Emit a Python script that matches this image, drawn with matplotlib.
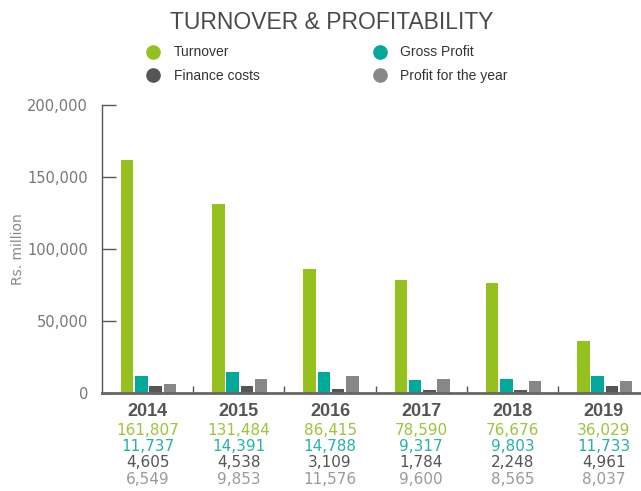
import matplotlib.pyplot as plt
import numpy as np
from matplotlib.lines import Line2D

# data (Rs. million)
years = ["2014", "2015", "2016", "2017", "2018", "2019"]
turnover = [161807, 131484, 86415, 78590, 76676, 36029]
gross_profit = [11737, 14391, 14788, 9317, 9803, 11733]
finance_costs = [4605, 4538, 3109, 1784, 2248, 4961]
profit_year = [6549, 9853, 11576, 9600, 8565, 8037]

series_names = ["Turnover", "Gross Profit", "Finance costs", "Profit for the year"]
bar_colors = ["#95c11f", "#00a99a", "#555555", "#878787"]
text_colors = ["#9dc43a", "#26b3a5", "#555555", "#9a9a9a"]

plt.rcParams['font.family'] = ['Liberation Sans', 'DejaVu Sans']

fig = plt.figure(figsize=(6.41, 4.91), dpi=100)
ax = fig.add_axes([0.1591, 0.1996, 0.854, 0.5866])

x = np.arange(len(years))
width = 0.137
pitch = 0.156
all_series = [turnover, gross_profit, finance_costs, profit_year]
for i, vals in enumerate(all_series):
    ax.bar(x + (i - 1.5) * pitch + 0.01, vals, width, color=bar_colors[i], label=series_names[i])

ax.set_xlim(-0.5, 5.5)
ax.set_ylim(0, 200000)

# y axis
ax.set_yticks(range(0, 200001, 50000))
ax.set_yticklabels([f"{v:,}" for v in range(0, 200001, 50000)], family='DejaVu Sans',
                   fontsize=10.5, color="#777777")
ax.tick_params(axis='y', direction='in', length=10, width=1, color="#555555", pad=10)
ax.set_ylabel("Rs. million", fontsize=10, color="#888888", family='DejaVu Sans')
ax.yaxis.set_label_coords(-0.141, 0.5)

# x axis: ticks at group boundaries, year labels at centres
ax.set_xticks(x + 0.5)
ax.set_xticklabels([])
ax.tick_params(axis='x', which='major', direction='in', length=5, width=1, color="#555555")
ax.set_xticks(x, minor=True)
ax.set_xticklabels(years, minor=True, fontsize=13, fontweight='bold', color="#555555")
ax.tick_params(axis='x', which='minor', length=0, pad=7)

for s in ['top', 'right']:
    ax.spines[s].set_visible(False)
ax.spines['left'].set_color("#555555")
ax.spines['left'].set_linewidth(1)
ax.spines['bottom'].set_color("#666666")
ax.spines['bottom'].set_linewidth(2)

# value table under the years
row_y = [-0.130, -0.187, -0.243, -0.299]
for r, vals in enumerate(all_series):
    for j, v in enumerate(vals):
        ax.text(x[j], row_y[r], f"{v:,}", transform=ax.get_xaxis_transform(),
                ha='center', va='center', fontsize=11, color=text_colors[r],
                family='DejaVu Sans', clip_on=False)

fig.text(0.517, 0.955, "TURNOVER & PROFITABILITY", ha='center', va='center',
         fontsize=16.5, color="#4a4a4a")

handles = [Line2D([], [], marker='o', linestyle='none', markersize=9.5,
                  color=bar_colors[i]) for i in [0, 2, 1, 3]]
labels = [series_names[i] for i in [0, 2, 1, 3]]
fig.legend(handles, labels, ncol=2, loc='upper left', bbox_to_anchor=(0.209, 0.933),
           frameon=False, fontsize=10, handlelength=1.0, handletextpad=1.0,
           columnspacing=8.1, labelspacing=0.7, labelcolor="#333333")

fig.savefig("out.png", dpi=100)
